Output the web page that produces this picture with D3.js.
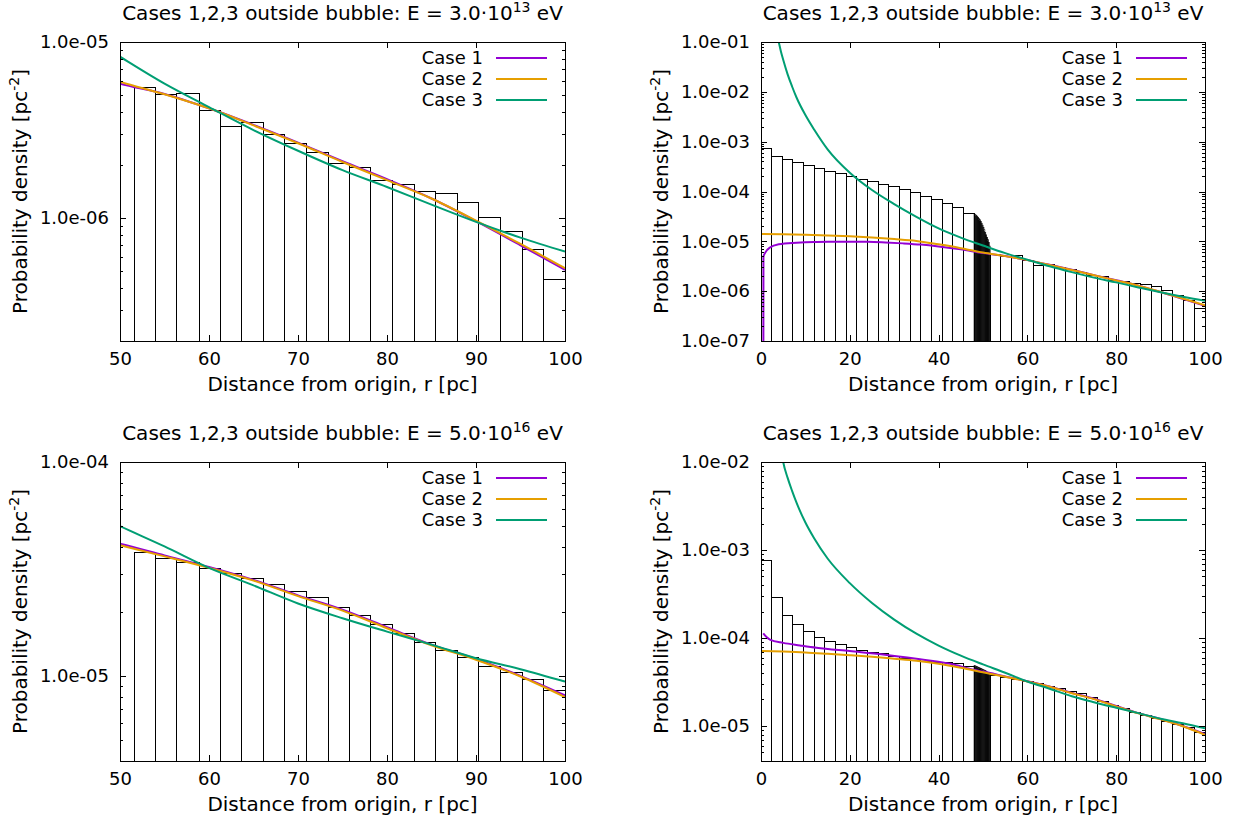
<!DOCTYPE html>
<html>
<head>
<meta charset="utf-8">
<script src="https://cdn.jsdelivr.net/npm/d3@7"></script>
<style>
  body { margin: 0; background: #fff; }
  svg { display: block; }
  text { font-family: "DejaVu Sans", sans-serif; fill: #000; }
</style>
</head>
<body>
<svg width="1237" height="824"></svg>
<script>
// histogram bin edges (pc)
var binEdgesInner = [0, 2.4, 4.8, 7.2, 9.6, 12.0, 14.4, 16.8, 19.2, 21.6, 24.0, 26.4, 28.8, 31.2, 33.6, 36.0, 38.4, 40.8, 43.2, 45.6, 48.0];
var binEdgesFine = [48.0, 48.2, 48.4, 48.6, 48.8, 49.0, 49.2, 49.4, 49.6, 49.8, 50.0, 50.2, 50.4, 50.6, 50.8, 51.0, 51.2, 51.4, 51.6];
var binEdgesOuter = [51.6, 54.0, 56.4, 58.9, 61.3, 63.7, 66.1, 68.5, 71.0, 73.4, 75.8, 78.2, 80.6, 83.1, 85.5, 87.9, 90.3, 92.7, 95.2, 97.6, 100];

// histogram values, E = 3.0e13 eV
var hist13Inner = [7.33e-4, 5.14e-4, 4.34e-4, 3.78e-4, 3.28e-4, 2.90e-4, 2.53e-4, 2.31e-4, 2.04e-4, 1.77e-4,
                   1.57e-4, 1.39e-4, 1.24e-4, 1.10e-4, 9.44e-5, 7.98e-5, 6.94e-5, 5.77e-5, 4.71e-5, 3.63e-5];
var hist13Fine = [3.5e-5, 3.4e-5, 3.3e-5, 3.15e-5, 3.0e-5, 2.85e-5, 2.7e-5, 2.5e-5, 2.3e-5,
                  2.1e-5, 1.9e-5, 1.7e-5, 1.5e-5, 1.35e-5, 1.2e-5, 1.08e-5, 9.5e-6, 8.0e-6];
var hist13Outer = [5.53e-6, 5.04e-6, 5.11e-6, 4.07e-6, 3.33e-6, 3.50e-6, 2.99e-6, 2.66e-6, 2.35e-6, 2.05e-6,
                   1.94e-6, 1.64e-6, 1.55e-6, 1.41e-6, 1.38e-6, 1.22e-6, 1.01e-6, 8.36e-7, 6.58e-7, 4.50e-7];

// histogram values, E = 5.0e16 eV
var hist16Inner = [7.65e-4, 2.85e-4, 1.81e-4, 1.42e-4, 1.17e-4, 1.01e-4, 9.15e-5, 8.53e-5, 7.88e-5, 7.28e-5,
                   6.85e-5, 6.62e-5, 6.22e-5, 5.81e-5, 5.51e-5, 5.41e-5, 5.32e-5, 5.23e-5, 5.09e-5, 4.75e-5];
var hist16Fine = [4.85e-5, 4.8e-5, 4.75e-5, 4.7e-5, 4.65e-5, 4.6e-5, 4.55e-5, 4.5e-5, 4.45e-5,
                  4.4e-5, 4.35e-5, 4.3e-5, 4.25e-5, 4.2e-5, 4.1e-5, 4.05e-5, 4.0e-5, 3.9e-5];
var hist16Outer = [3.79e-5, 3.53e-5, 3.38e-5, 3.17e-5, 3.02e-5, 2.84e-5, 2.67e-5, 2.48e-5, 2.32e-5, 2.08e-5,
                   1.91e-5, 1.73e-5, 1.57e-5, 1.44e-5, 1.32e-5, 1.22e-5, 1.11e-5, 1.04e-5, 9.6e-6, 8.5e-6];

// model curves [r, density]
var case1E13 = [[0.52, 1e-9], [0.55, 4.9e-6], [1, 6.0e-6], [2, 7.5e-6], [4, 8.7e-6], [8, 9.35e-6], [12, 9.7e-6],
                [16, 9.8e-6], [20, 9.85e-6], [24, 9.8e-6], [28, 9.5e-6], [32, 9.1e-6], [36, 8.6e-6], [40, 7.9e-6],
                [45, 6.9e-6], [50, 5.80e-6], [55, 5.07e-6], [60, 4.20e-6], [65, 3.38e-6], [70, 2.68e-6],
                [75, 2.10e-6], [80, 1.66e-6], [85, 1.29e-6], [90, 9.6e-7], [95, 7.0e-7], [100, 5.08e-7]];
var case2E13 = [[0, 1.40e-5], [5, 1.38e-5], [10, 1.35e-5], [15, 1.31e-5], [20, 1.26e-5], [25, 1.19e-5],
                [30, 1.11e-5], [35, 1.02e-5], [40, 8.7e-6], [45, 7.3e-6], [50, 5.95e-6], [55, 5.05e-6],
                [60, 4.20e-6], [65, 3.36e-6], [70, 2.66e-6], [75, 2.08e-6], [80, 1.64e-6], [85, 1.29e-6],
                [90, 9.66e-7], [95, 7.12e-7], [100, 5.18e-7]];
var case3E13 = [[3.7, 0.13], [4, 0.1], [4.5, 0.064], [5, 0.044], [6, 0.0224], [7, 0.0128], [8, 7.7e-3],
                [10, 3.42e-3], [12, 1.73e-3], [15, 7.0e-4], [20, 2.38e-4], [25, 1.07e-4], [30, 5.58e-5],
                [35, 3.1e-5], [40, 1.82e-5], [45, 1.19e-5], [50, 8.25e-6], [55, 5.8e-6], [60, 4.27e-6],
                [65, 3.16e-6], [70, 2.41e-6], [75, 1.87e-6], [80, 1.50e-6], [85, 1.19e-6], [90, 9.5e-7],
                [95, 7.73e-7], [100, 6.44e-7]];

var case1E16 = [[0.5, 1.13e-4], [1.3, 1.02e-4], [2, 9.6e-5], [5, 8.8e-5], [8.8, 8.24e-5], [12.5, 7.76e-5],
                [20, 7.1e-5], [27.5, 6.5e-5], [35, 5.81e-5], [42.6, 5.09e-5], [48, 4.35e-5], [50, 4.15e-5],
                [55, 3.66e-5], [60, 3.23e-5], [65, 2.81e-5], [70, 2.38e-5], [75, 2.04e-5], [80, 1.69e-5],
                [85, 1.40e-5], [90, 1.20e-5], [95, 1.0e-5], [100, 8.1e-6]];
var case2E16 = [[0, 7.1e-5], [5, 7.0e-5], [10, 6.85e-5], [15, 6.62e-5], [20, 6.38e-5], [25, 6.12e-5],
                [30, 5.81e-5], [35, 5.5e-5], [40, 5.1e-5], [45, 4.6e-5], [50, 4.08e-5], [55, 3.62e-5],
                [60, 3.20e-5], [65, 2.79e-5], [70, 2.36e-5], [75, 2.02e-5], [80, 1.67e-5], [85, 1.39e-5],
                [90, 1.19e-5], [95, 9.93e-6], [100, 7.96e-6]];
var case3E16 = [[4.85, 1.1e-2], [5, 1.0e-2], [6, 6.6e-3], [7, 4.7e-3], [8, 3.45e-3], [10, 2.05e-3], [12, 1.35e-3],
                [15, 8.0e-4], [20, 4.2e-4], [25, 2.5e-4], [30, 1.62e-4], [35, 1.12e-4], [40, 8.2e-5], [45, 6.3e-5],
                [50, 5.01e-5], [55, 4.03e-5], [60, 3.20e-5], [65, 2.65e-5], [70, 2.18e-5], [75, 1.86e-5],
                [80, 1.61e-5], [85, 1.40e-5], [90, 1.21e-5], [95, 1.075e-5], [100, 9.4e-6]];

var caseNames = ["Case 1", "Case 2", "Case 3"];
var caseColors = ["#9400d3", "#e69f00", "#009e73"];

// axis ticks
var xTicksZoom = [50, 60, 70, 80, 90, 100];
var xTicksFull = [0, 20, 40, 60, 80, 100];
var yTicksA = [1e-6, 1e-5];
var yTicksB = [1e-7, 1e-6, 1e-5, 1e-4, 1e-3, 1e-2, 1e-1];
var yTicksC = [1e-5, 1e-4];
var yTicksD = [1e-5, 1e-4, 1e-3, 1e-2];

var panels = [
    {left: 120, right: 565, top: 42, bottom: 341, xDomain: [50, 100], yDomain: [2e-7, 1e-5],
     xTicks: xTicksZoom, yTicks: yTicksA, mant: "3.0", exp: "13",
     hist: [[binEdgesOuter, hist13Outer, true]], curves: [case1E13, case2E13, case3E13]},
    {left: 761, right: 1205, top: 42, bottom: 341, xDomain: [0, 100], yDomain: [1e-7, 1e-1],
     xTicks: xTicksFull, yTicks: yTicksB, mant: "3.0", exp: "13",
     hist: [[binEdgesInner, hist13Inner, true], [binEdgesFine, hist13Fine, false], [binEdgesOuter, hist13Outer, true]],
     curves: [case1E13, case2E13, case3E13]},
    {left: 120, right: 565, top: 462, bottom: 761, xDomain: [50, 100], yDomain: [4e-6, 1e-4],
     xTicks: xTicksZoom, yTicks: yTicksC, mant: "5.0", exp: "16",
     hist: [[binEdgesOuter, hist16Outer, true]], curves: [case1E16, case2E16, case3E16]},
    {left: 761, right: 1205, top: 462, bottom: 761, xDomain: [0, 100], yDomain: [4e-6, 1e-2],
     xTicks: xTicksFull, yTicks: yTicksD, mant: "5.0", exp: "16",
     hist: [[binEdgesInner, hist16Inner, true], [binEdgesFine, hist16Fine, false], [binEdgesOuter, hist16Outer, true]],
     curves: [case1E16, case2E16, case3E16]}
];

var svg = d3.select("svg");
var labelSize = 20;
var tickSize = 18;

function fmtExp(v) {
    return v.toExponential(1).replace(/e-(\d)$/, "e-0$1");
}

function isDecade(v) {
    var l = Math.log10(v);
    return Math.abs(l - Math.round(l)) < 1e-6;
}

function styleAxis(g) {
    g.select(".domain").remove();
    g.attr("font-size", tickSize).attr("font-family", "DejaVu Sans");
    g.selectAll("line").attr("shape-rendering", "crispEdges");
}

function drawPanel(p, idx) {
    var x = d3.scaleLinear().domain(p.xDomain).range([p.left, p.right]);
    var y = d3.scaleLog().domain(p.yDomain).range([p.bottom, p.top]);
    var g = svg.append("g");

    svg.append("clipPath").attr("id", "clip" + idx)
        .append("rect")
        .attr("x", p.left).attr("y", p.top)
        .attr("width", p.right - p.left).attr("height", p.bottom - p.top);

    var plot = g.append("g").attr("clip-path", "url(#clip" + idx + ")");

    // histogram boxes
    p.hist.forEach(function(h) {
        var edges = h[0], vals = h[1];
        plot.selectAll(null)
            .data(vals)
            .enter()
            .append("rect")
            .attr("x", function(d, i) { return x(edges[i]); })
            .attr("width", function(d, i) { return x(edges[i + 1]) - x(edges[i]); })
            .attr("y", function(d) { return y(d); })
            .attr("height", function(d) { return p.bottom - y(d) + 2; })
            .attr("fill", "none")
            .attr("stroke", "#000")
            .attr("stroke-width", h[2] ? 1 : 0.8)
            .attr("shape-rendering", h[2] ? "crispEdges" : "auto");
    });

    // model curves
    var line = d3.line()
        .x(function(d) { return x(d[0]); })
        .y(function(d) { return y(d[1]); })
        .curve(d3.curveMonotoneX);

    p.curves.forEach(function(c, i) {
        plot.append("path")
            .attr("d", line(c))
            .attr("fill", "none")
            .attr("stroke", caseColors[i])
            .attr("stroke-width", 2);
    });

    // axes
    var minor = y.ticks().filter(function(v) {
        return !isDecade(v) && v >= p.yDomain[0] && v <= p.yDomain[1];
    });

    g.append("g").attr("transform", "translate(0," + p.bottom + ")")
        .call(d3.axisBottom(x).tickValues(p.xTicks).tickFormat(d3.format("d")).tickSize(-6).tickPadding(11))
        .call(styleAxis);
    g.append("g").attr("transform", "translate(0," + p.top + ")")
        .call(d3.axisTop(x).tickValues(p.xTicks).tickFormat("").tickSize(-6))
        .call(styleAxis);
    g.append("g").attr("transform", "translate(" + p.left + ",0)")
        .call(d3.axisLeft(y).tickValues(p.yTicks).tickFormat(fmtExp).tickSize(-6).tickPadding(11))
        .call(styleAxis);
    g.append("g").attr("transform", "translate(" + p.right + ",0)")
        .call(d3.axisRight(y).tickValues(p.yTicks).tickFormat("").tickSize(-6))
        .call(styleAxis);
    g.append("g").attr("transform", "translate(" + p.left + ",0)")
        .call(d3.axisLeft(y).tickValues(minor).tickFormat("").tickSize(-3))
        .call(styleAxis);
    g.append("g").attr("transform", "translate(" + p.right + ",0)")
        .call(d3.axisRight(y).tickValues(minor).tickFormat("").tickSize(-3))
        .call(styleAxis);

    // border
    g.append("rect")
        .attr("x", p.left).attr("y", p.top)
        .attr("width", p.right - p.left).attr("height", p.bottom - p.top)
        .attr("fill", "none").attr("stroke", "#000").attr("stroke-width", 1)
        .attr("shape-rendering", "crispEdges");

    // title
    var cx = (p.left + p.right) / 2;
    var title = g.append("text")
        .attr("x", cx).attr("y", p.top - 22)
        .attr("text-anchor", "middle")
        .attr("font-size", labelSize);
    title.append("tspan").text("Cases 1,2,3 outside bubble: E = " + p.mant + "\u00b710");
    title.append("tspan").attr("dy", -8).attr("font-size", 14).text(p.exp);
    title.append("tspan").attr("dy", 8).text(" eV");

    // axis labels
    g.append("text")
        .attr("x", cx).attr("y", p.bottom + 50)
        .attr("text-anchor", "middle")
        .attr("font-size", labelSize)
        .text("Distance from origin, r [pc]");

    var cy = (p.top + p.bottom) / 2;
    var ylab = g.append("text")
        .attr("transform", "translate(" + (p.left - 100) + "," + cy + ") rotate(-90)")
        .attr("text-anchor", "middle")
        .attr("dy", "0.35em")
        .attr("font-size", labelSize);
    ylab.append("tspan").text("Probability density [pc");
    ylab.append("tspan").attr("dy", -8).attr("font-size", 14).text("-2");
    ylab.append("tspan").attr("dy", 8).text("]");

    // legend
    caseNames.forEach(function(name, i) {
        var ly = p.top + 16 + i * 21;
        g.append("text")
            .attr("x", p.right - 82).attr("y", ly)
            .attr("dy", "0.35em")
            .attr("text-anchor", "end")
            .attr("font-size", tickSize)
            .text(name);
        g.append("line")
            .attr("x1", p.right - 69).attr("x2", p.right - 18)
            .attr("y1", ly).attr("y2", ly)
            .attr("stroke", caseColors[i])
            .attr("stroke-width", 2);
    });
}

panels.forEach(drawPanel);
</script>
</body>
</html>
